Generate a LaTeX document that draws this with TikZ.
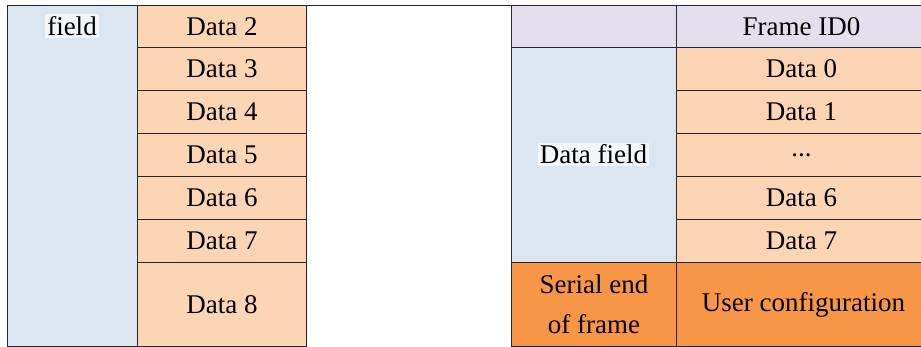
\documentclass[tikz,border=0pt]{standalone}
\usepackage{fontspec}
\setmainfont{Liberation Serif}
\definecolor{lblue}{HTML}{DCE6F1}
\definecolor{lorange}{HTML}{FCD5B4}
\definecolor{lpurple}{HTML}{E4DFEC}
\definecolor{dorange}{HTML}{F79646}
\definecolor{hl}{HTML}{F4F5F7}
\begin{document}
\begin{tikzpicture}[x=1pt,y=1pt,
  cell/.style={draw=black!85, line width=0.9pt, anchor=north west, inner sep=0pt,
    font=\fontsize{27}{40}\selectfont, align=center},
  hltext/.style={fill=hl, inner sep=2pt, font=\fontsize{27}{40}\selectfont}]
\useasboundingbox (0,0) rectangle (921,347);
\clip (0,0) rectangle (921,347);
% left table
\node[cell, fill=lblue, minimum width=130pt, minimum height=341pt] (lb) at (7,342) {};
\node[hltext] (lbt) at (72,321) {field};
\node[cell, fill=lorange, minimum width=169pt, minimum height=42pt] (d2) at (137,342) {Data 2};
\node[cell, fill=lorange, minimum width=169pt, minimum height=43pt] (d3) at (137,300) {Data 3};
\node[cell, fill=lorange, minimum width=169pt, minimum height=43pt] (d4) at (137,257) {Data 4};
\node[cell, fill=lorange, minimum width=169pt, minimum height=43pt] (d5) at (137,214) {Data 5};
\node[cell, fill=lorange, minimum width=169pt, minimum height=43pt] (d6) at (137,171) {Data 6};
\node[cell, fill=lorange, minimum width=169pt, minimum height=43pt] (d7) at (137,128) {Data 7};
\node[cell, fill=lorange, minimum width=169pt, minimum height=84pt] (d8) at (137,85) {Data 8};
% top line across gap
\draw[black!85, line width=0.9pt] (d2.north east) -- (511,342) coordinate (gapend);
% right table
\node[cell, fill=lpurple, minimum width=165pt, minimum height=42pt] (rp) at (511,342) {};
\node[cell, fill=lpurple, minimum width=250pt, minimum height=42pt] (fid) at (676,342) {Frame ID0};
\node[cell, fill=lblue, minimum width=165pt, minimum height=215pt] (rb) at (511,300) {};
\node[hltext] (rbt) at (593.5,192.5) {Data field};
\node[cell, fill=lorange, minimum width=250pt, minimum height=43pt] (r0) at (676,300) {Data 0};
\node[cell, fill=lorange, minimum width=250pt, minimum height=43pt] (r1) at (676,257) {Data 1};
\node[cell, fill=lorange, minimum width=250pt, minimum height=43pt] (r2) at (676,214) {...};
\node[cell, fill=lorange, minimum width=250pt, minimum height=43pt] (r6) at (676,171) {Data 6};
\node[cell, fill=lorange, minimum width=250pt, minimum height=43pt] (r7) at (676,128) {Data 7};
\node[cell, fill=dorange, minimum width=165pt, minimum height=84pt] (se) at (511,85) {Serial end\\of frame};
\node[cell, fill=dorange, minimum width=250pt, minimum height=84pt] (uc) at (676,85) {\hspace*{4pt}User configuration};
\end{tikzpicture}
\end{document}
